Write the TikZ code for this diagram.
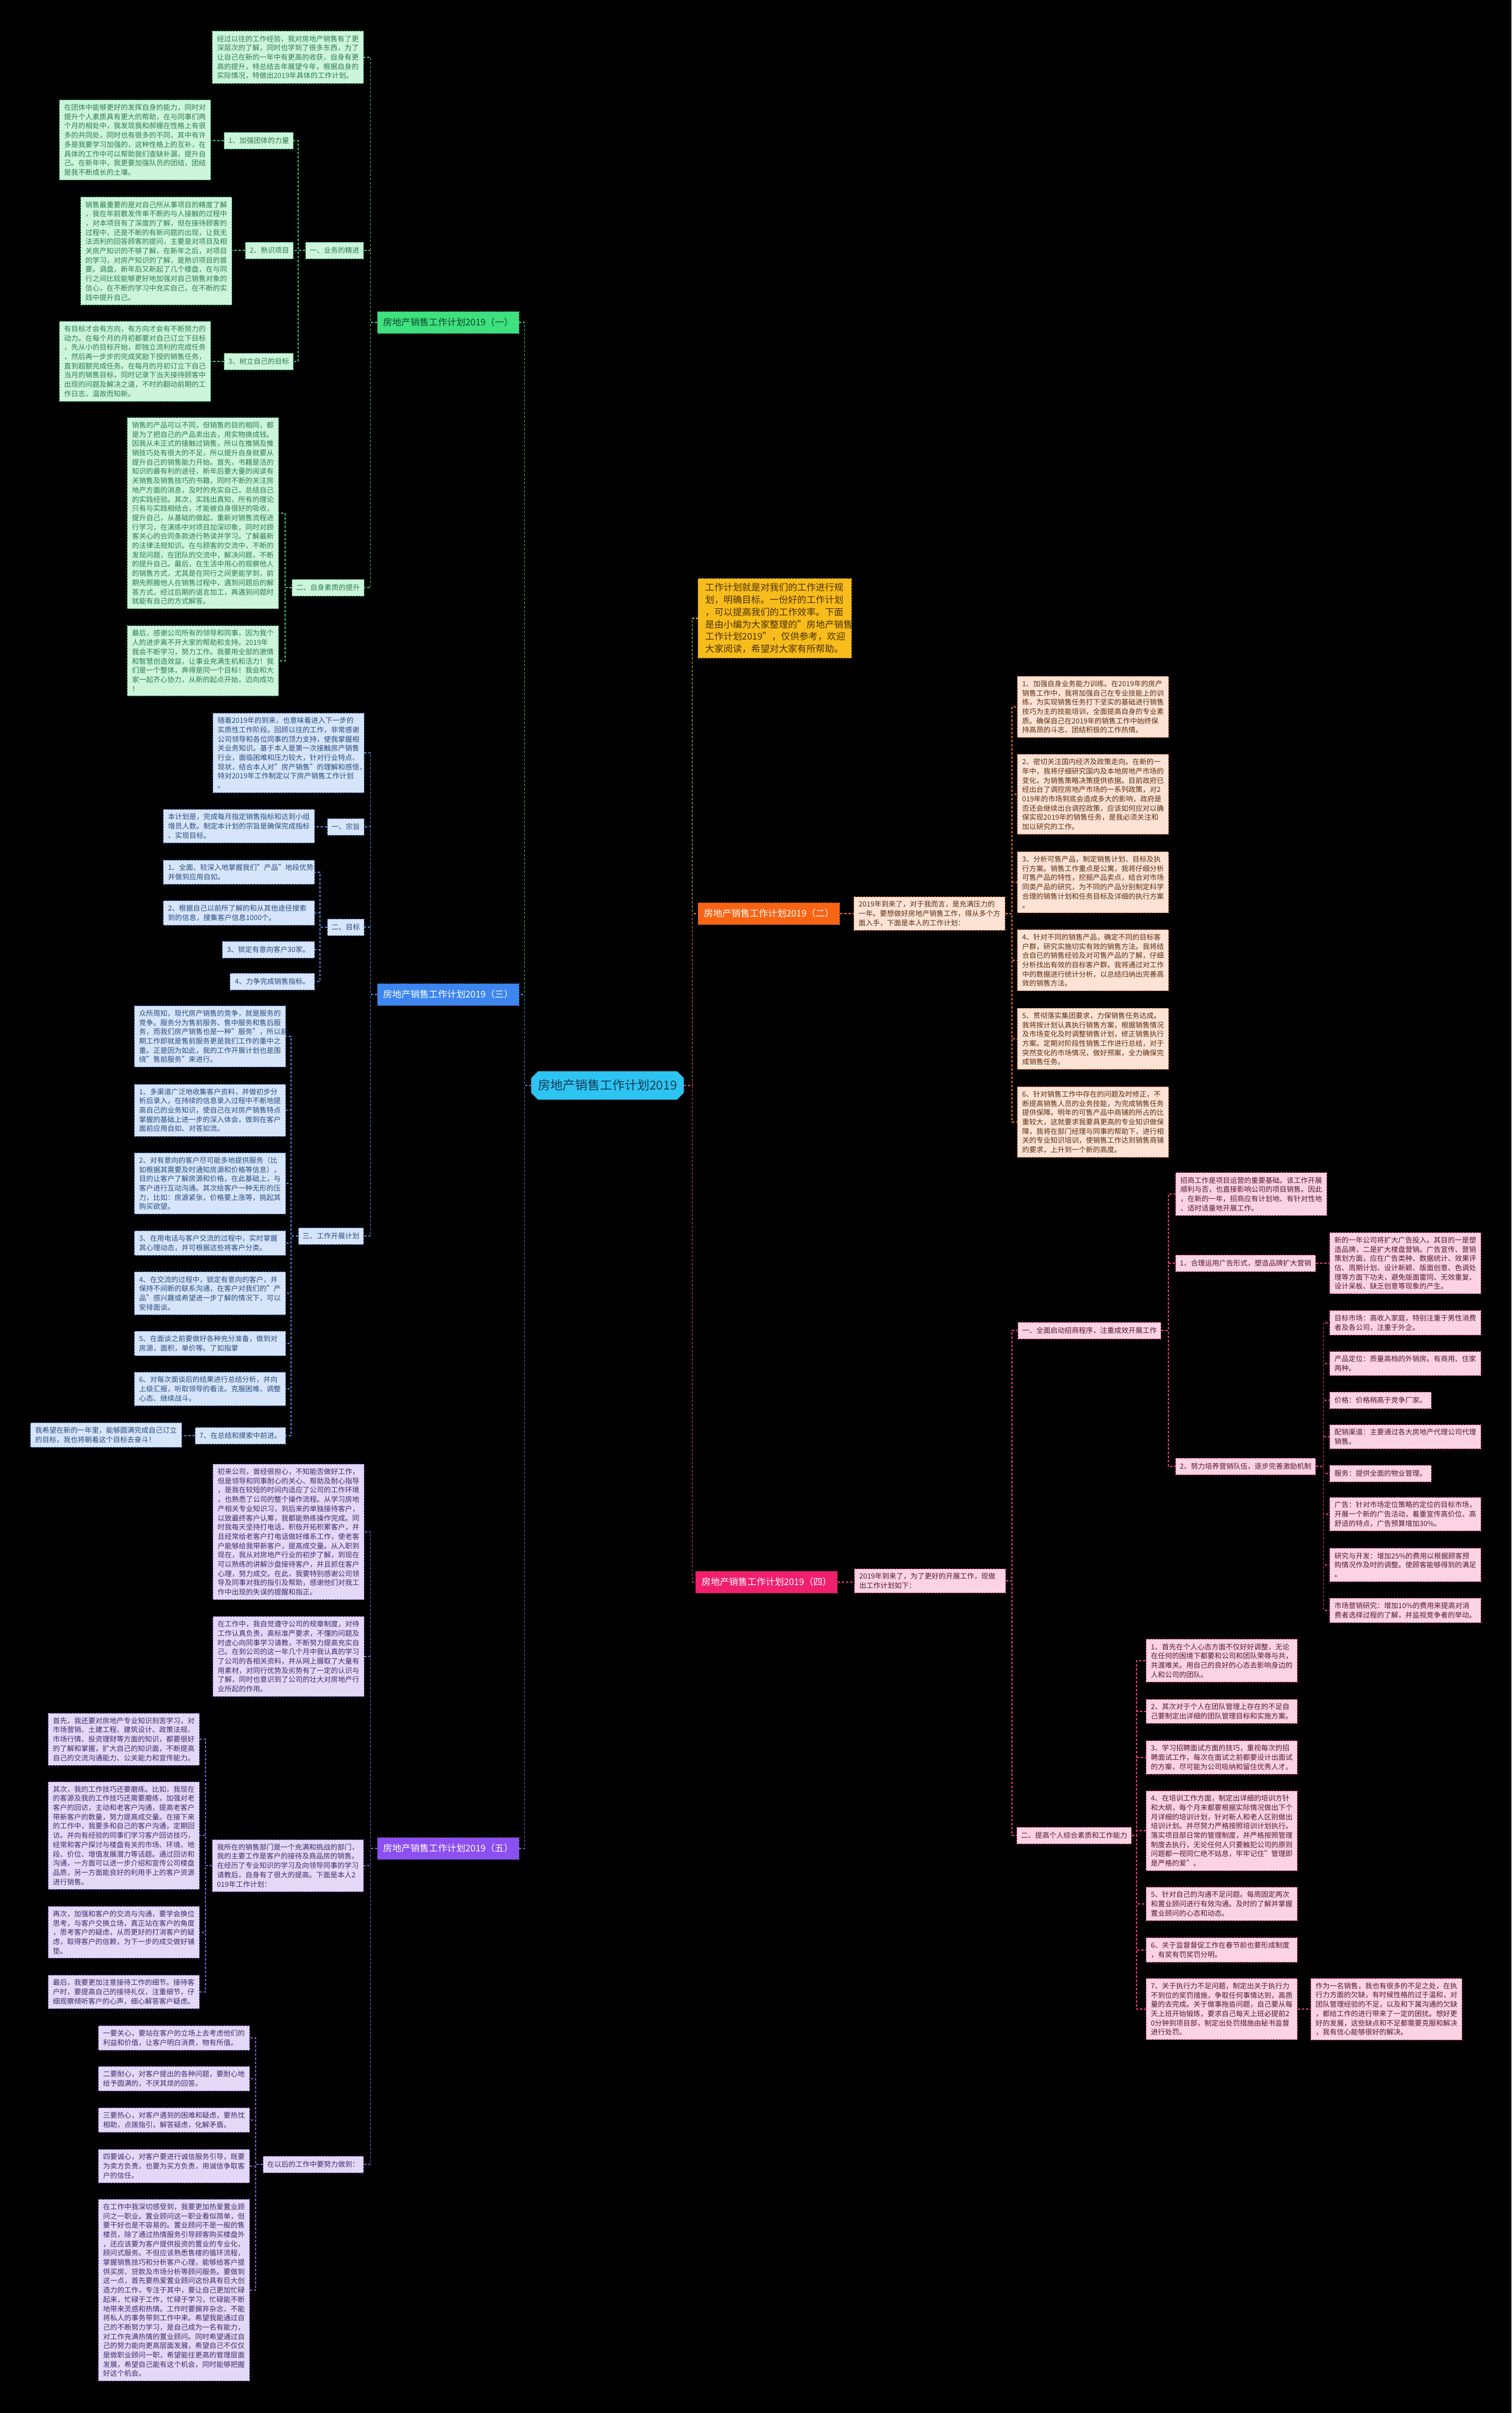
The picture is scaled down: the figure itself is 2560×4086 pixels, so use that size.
\documentclass[tikz,border=0pt]{standalone}
\usepackage{fontspec}
\setmainfont{Noto Sans CJK SC}
\usetikzlibrary{shapes.misc}
\definecolor{gfill}{HTML}{CCF5DB}\definecolor{gtext}{HTML}{2E7D4F}\definecolor{gline}{HTML}{3FBF74}\definecolor{gbr}{HTML}{3EE07F}\definecolor{gbrtext}{HTML}{0E4A2A}
\definecolor{bfill}{HTML}{D7E5FA}\definecolor{btext}{HTML}{2B4C80}\definecolor{bline}{HTML}{4F86DC}\definecolor{bbr}{HTML}{3D86F0}
\definecolor{pfill}{HTML}{E3D9F7}\definecolor{ptext}{HTML}{3E2C6B}\definecolor{pline}{HTML}{7D5BD8}\definecolor{pbr}{HTML}{8C4FF0}
\definecolor{ofill}{HTML}{FCE3D5}\definecolor{otext}{HTML}{5C2E12}\definecolor{oline}{HTML}{F0702A}\definecolor{obr}{HTML}{F86414}
\definecolor{kfill}{HTML}{FBD3E4}\definecolor{ktext}{HTML}{55192F}\definecolor{kline}{HTML}{E4407A}\definecolor{kbr}{HTML}{F0206E}
\definecolor{yfill}{HTML}{F8BC1C}\definecolor{ytext}{HTML}{4A3300}\definecolor{yline}{HTML}{F5C518}
\definecolor{rfill}{HTML}{2EC4F2}\definecolor{rtext}{HTML}{163A55}
\begin{document}
\begin{tikzpicture}[x=1pt,y=-1pt,
  base/.style={font=\fontsize{12}{15.7}\selectfont, inner xsep=8pt, inner ysep=7pt, draw, dash pattern=on 3pt off 2pt, line width=0.9pt},
  para/.style={base, text width=240pt, align=left},
  lab/.style={base, minimum height=28pt, inner xsep=7pt},
  branchbox/.style={font=\fontsize{15.5}{18}\selectfont, minimum width=240pt, minimum height=37pt, inner xsep=8pt, draw, dash pattern=on 3pt off 2pt, line width=0.9pt},
  gp/.style={fill=gfill, draw=gline, text=gtext},
  bp/.style={fill=bfill, draw=bline, text=btext},
  pp/.style={fill=pfill, draw=pline, text=ptext},
  op/.style={fill=ofill, draw=oline, text=otext},
  kp/.style={fill=kfill, draw=kline, text=ktext},
  conn/.style={line width=1.3pt, dash pattern=on 4pt off 3pt},
  gc/.style={conn, draw=gline},
  bc/.style={conn, draw=bline},
  pc/.style={conn, draw=pline},
  oc/.style={conn, draw=oline},
  kc/.style={conn, draw=kline},
  yc/.style={conn, draw=yline}
]
\fill[black] (0,0) rectangle (2560,4086);
\useasboundingbox (0,0) rectangle (2560,4086);

% ---------- root ----------
\node[fill=rfill, text=rtext, draw=rfill!80!black, chamfered rectangle, chamfered rectangle xsep=8pt, minimum width=258pt, minimum height=48pt, font=\fontsize{21}{25}\selectfont] (root) at (1029,1838) {房地产销售工作计划2019};

% ---------- intro ----------
\node[fill=yfill, text=ytext, draw=yline!70!black, dash pattern=on 3pt off 2pt, line width=0.9pt, font=\fontsize{15.6}{20.8}\selectfont, text width=236pt, align=left, inner xsep=12pt, inner ysep=8pt, anchor=west] (intro) at (1182,1047) {工作计划就是对我们的工作进行规\\划，明确目标。一份好的工作计划\\，可以提高我们的工作效率。下面\\是由小编为大家整理的"房地产销售\\工作计划2019"，仅供参考，欢迎\\大家阅读，希望对大家有所帮助。};

% ---------- branch 1 (green) ----------
\node[branchbox, fill=gbr, draw=gline!70!black, text=gbrtext] (b1) at (759,546) {房地产销售工作计划2019（一）};
\node[para,gp,anchor=east] (pi1) at (616,97) {经过以往的工作经验，我对房地产销售有了更\\深层次的了解，同时也学到了很多东西，为了\\让自己在新的一年中有更高的收获，自身有更\\高的提升，特总结去年展望今年，根据自身的\\实际情况，特做出2019年具体的工作计划。};
\node[lab,gp,anchor=east] (t10) at (616,424) {一、业务的精进};
\node[lab,gp,anchor=east] (t11) at (497,238) {1、加强团体的力量};
\node[para,gp,anchor=east] (p11) at (357,237) {在团体中能够更好的发挥自身的能力，同时对\\提升个人素质具有更大的帮助，在与同事们两\\个月的相处中，我发现我和郝姗在性格上有很\\多的共同处，同时也有很多的不同，其中有许\\多是我要学习加强的，这种性格上的互补，在\\具体的工作中可以帮助我们查缺补漏，提升自\\己。在新年中，我更要加强队员的团结，团结\\是我不断成长的土壤。};
\node[lab,gp,anchor=east] (t12) at (497,424) {2、熟识项目};
\node[para,gp,anchor=east] (p12) at (393,425) {销售最重要的是对自己所从事项目的精度了解\\，我在年前散发传单不断的与人接触的过程中\\，对本项目有了深度的了解，但在接待顾客的\\过程中，还是不断的有新问题的出现，让我无\\法流利的回答顾客的提问，主要是对项目及相\\关房产知识的不够了解，在新年之后，对项目\\的学习，对房产知识的了解，是熟识项目的首\\要。调盘，新年后又新起了几个楼盘，在与同\\行之间比较能够更好地加强对自己销售对象的\\信心，在不断的学习中充实自己，在不断的实\\践中提升自己。};
\node[lab,gp,anchor=east] (t13) at (497,612) {3、树立自己的目标};
\node[para,gp,anchor=east] (p13) at (357,612) {有目标才会有方向，有方向才会有不断努力的\\动力。在每个月的月初都要对自己订立下目标\\，先从小的目标开始，即独立流利的完成任务\\，然后再一步步的完成奖励下授的销售任务，\\直到超额完成任务。在每月的月初订立下自己\\当月的销售目标，同时记录下当天接待顾客中\\出现的问题及解决之道，不时的翻动前期的工\\作日志，温故而知新。};
\node[lab,gp,anchor=east] (t14) at (617,995) {二、自身素质的提升};
\node[para,gp,anchor=east] (p14) at (472,869) {销售的产品可以不同，但销售的目的相同，都\\是为了把自己的产品卖出去，用实物换成钱。\\因我从未正式的接触过销售，所以在推销及推\\销技巧处有很大的不足，所以提升自身就要从\\提升自己的销售能力开始。首先，书籍是活的\\知识的最有利的途径，新年后要大量的阅读有\\关销售及销售技巧的书籍，同时不断的关注房\\地产方面的消息，及时的充实自己，总结自己\\的实践经验。其次，实践出真知，所有的理论\\只有与实践相结合，才能被自身很好的吸收，\\提升自己，从基础的做起，重新对销售流程进\\行学习，在演练中对项目加深印象，同时对顾\\客关心的合同条款进行熟读并学习。了解最新\\的法律法规知识。在与顾客的交流中，不断的\\发现问题，在团队的交流中，解决问题，不断\\的提升自己。最后，在生活中用心的观察他人\\的销售方式，尤其是在同行之间更能学到，前\\期先照搬他人在销售过程中，遇到问题后的解\\答方式，经过后期的语言加工，再遇到问题时\\就能有自己的方式解答。};
\node[para,gp,anchor=east] (p15) at (472,1119) {最后，感谢公司所有的领导和同事，因为我个\\人的进步离不开大家的帮助和支持。2019年\\我会不断学习，努力工作。我要用全部的激情\\和智慧创造效益，让事业充满生机和活力！我\\们是一个整体，奔得是同一个目标！我会和大\\家一起齐心协力，从新的起点开始，迈向成功\\！};

% ---------- branch 3 (blue) ----------
\node[branchbox, fill=bbr, draw=bline!70!black, text=white] (b3) at (759,1684) {房地产销售工作计划2019（三）};
\node[para,bp,anchor=east] (p30) at (617,1275) {随着2019年的到来，也意味着进入下一步的\\实质性工作阶段。回顾以往的工作，非常感谢\\公司领导和各位同事的顶力支持，使我掌握相\\关业务知识。基于本人是第一次接触房产销售\\行业，面临困难和压力较大，针对行业特点、\\现状，结合本人对"房产销售"的理解和感悟，\\特对2019年工作制定以下房产销售工作计划\\。};
\node[lab,bp,anchor=east] (t31) at (617,1400) {一、宗旨};
\node[para,bp,anchor=east] (p31) at (533,1399) {本计划是，完成每月指定销售指标和达到小组\\增员人数。制定本计划的宗旨是确保完成指标\\、实现目标。};
\node[lab,bp,anchor=east] (t32) at (617,1570) {二、目标};
\node[para,bp,anchor=east] (p32a) at (533,1477) {1、全面、较深入地掌握我们"产品"地段优势\\并做到应用自如。};
\node[para,bp,anchor=east] (p32b) at (533,1546) {2、根据自己以前所了解的和从其他途径搜索\\到的信息，搜集客户信息1000个。};
\node[lab,bp,anchor=east,inner xsep=8pt] (p32c) at (533,1608) {3、锁定有意向客户30家。};
\node[lab,bp,anchor=east,inner xsep=8pt] (p32d) at (533,1662) {4、力争完成销售指标。};
\node[lab,bp,anchor=east] (t33) at (616,2093) {三、工作开展计划};
\node[para,bp,anchor=east] (p33a) at (484,1755) {众所周知，现代房产销售的竞争，就是服务的\\竞争。服务分为售前服务、售中服务和售后服\\务，而我们房产销售也是一种"服务"，所以前\\期工作即就是售前服务更是我们工作的重中之\\重。正是因为如此，我的工作开展计划也是围\\绕"售前服务"来进行。};
\node[para,bp,anchor=east] (p33b) at (484,1880) {1、多渠道广泛地收集客户资料，并做初步分\\析后录入，在持续的信息录入过程中不断地提\\高自己的业务知识，使自己在对房产销售特点\\掌握的基础上进一步的深入体会，做到在客户\\面前应用自如、对答如流。};
\node[para,bp,anchor=east] (p33c) at (484,2004) {2、对有意向的客户尽可能多地提供服务（比\\如根据其需要及时通知房源和价格等信息），\\目的让客户了解房源和价格，在此基础上，与\\客户进行互动沟通。其次给客户一种无形的压\\力，比如：房源紧张，价格要上涨等，挑起其\\购买欲望。};
\node[para,bp,anchor=east] (p33d) at (484,2105) {3、在用电话与客户交流的过程中，实时掌握\\其心理动态，并可根据这些将客户分类。};
\node[para,bp,anchor=east] (p33e) at (484,2190) {4、在交流的过程中，锁定有意向的客户，并\\保持不间断的联系沟通，在客户对我们的"产\\品"感兴趣或希望进一步了解的情况下，可以\\安排面谈。};
\node[para,bp,anchor=east] (p33f) at (484,2275) {5、在面谈之前要做好各种充分准备，做到对\\房源，面积，单价等。了如指掌};
\node[para,bp,anchor=east] (p33g) at (484,2352) {6、对每次面谈后的结果进行总结分析，并向\\上级汇报，听取领导的看法。克服困难、调整\\心态、继续战斗。};
\node[lab,bp,anchor=east] (t33h) at (484,2431) {7、在总结和摸索中前进。};
\node[para,bp,anchor=east] (p33i) at (308,2430) {我希望在新的一年里，能够圆满完成自己订立\\的目标，我也将朝着这个目标去奋斗！};

% ---------- branch 5 (purple) ----------
\node[branchbox, fill=pbr, draw=pline!70!black, text=white] (b5) at (759,3130) {房地产销售工作计划2019（五）};
\node[para,pp,anchor=east] (p50a) at (617,2594) {初来公司，曾经很担心，不知能否做好工作，\\但是领导和同事耐心的关心、帮助及耐心指导\\，是我在较短的时间内适应了公司的工作环境\\，也熟悉了公司的整个操作流程。从学习房地\\产相关专业知识习，到后来的单独接待客户，\\以致最终客户认筹，我都能熟练操作完成。同\\时我每天坚持打电话，积极开拓积累客户，并\\且经常给老客户打电话做好维系工作，使老客\\户能够给我带新客户，提高成交量。从入职到\\现在，我从对房地产行业的初步了解，到现在\\可以熟练的讲解沙盘接待客户，并且抓住客户\\心理，努力成交。在此，我要特别感谢公司领\\导及同事对我的指引及帮助，感谢他们对我工\\作中出现的失误的提醒和指正。};
\node[para,pp,anchor=east] (p50b) at (617,2805) {在工作中，我自觉遵守公司的规章制度，对待\\工作认真负责，高标准严要求，不懂的问题及\\时虚心向同事学习请教，不断努力提高充实自\\己。在到公司的这一年几个月中我认真的学习\\了公司的各相关资料，并从网上摄取了大量有\\用素材，对同行优势及劣势有了一定的认识与\\了解，同时也意识到了公司的壮大对房地产行\\业所起的作用。};
\node[para,pp,anchor=east] (t51) at (616,3159) {我所在的销售部门是一个充满和挑战的部门，\\我的主要工作是客户的接待及商品房的销售。\\在经历了专业知识的学习及向领导同事的学习\\请教后，自身有了很大的提高。下面是本人2\\019年工作计划：};
\node[para,pp,anchor=east] (p51a) at (338,2945) {首先，我还要对房地产专业知识刻苦学习，对\\市场营销、土建工程、建筑设计、政策法规、\\市场行情、投资理财等方面的知识，都要很好\\的了解和掌握，扩大自己的知识面，不断提高\\自己的交流沟通能力、公关能力和宣传能力。};
\node[para,pp,anchor=east] (p51b) at (338,3108) {其次，我的工作技巧还要磨练。比如，我现在\\的客源及我的工作技巧还需要磨练，加强对老\\客户的回访，主动和老客户沟通，提高老客户\\带新客户的数量，努力提高成交量。在接下来\\的工作中，我要多和自己的客户沟通，定期回\\访。并向有经验的同事们学习客户回访技巧，\\经常和客户探讨与楼盘有关的市场、环境、地\\段、价位、增值发展潜力等话题。通过回访和\\沟通，一方面可以进一步介绍和宣传公司楼盘\\品质，另一方面能良好的利用手上的客户资源\\进行销售。};
\node[para,pp,anchor=east] (p51c) at (338,3272) {再次，加强和客户的交流与沟通，要学会换位\\思考，与客户交换立场，真正站在客户的角度\\，思考客户的疑虑，从而更好的打消客户的疑\\虑，取得客户的信赖，为下一步的成交做好铺\\垫。};
\node[para,pp,anchor=east] (p51d) at (338,3373) {最后，我要更加注意接待工作的细节。接待客\\户时，要提高自己的接待礼仪，注重细节，仔\\细观察倾听客户的心声，细心解答客户疑虑。};
\node[lab,pp,anchor=east] (t52) at (616,3665) {在以后的工作中要努力做到：};
\node[para,pp,anchor=east] (p52a) at (423,3451) {一要关心，要站在客户的立场上去考虑他们的\\利益和价值，让客户明白消费，物有所值。};
\node[para,pp,anchor=east] (p52b) at (423,3520) {二要耐心，对客户提出的各种问题，要耐心地\\给予圆满的，不厌其烦的回答。};
\node[para,pp,anchor=east] (p52c) at (423,3590) {三要热心，对客户遇到的困难和疑虑，要热忱\\相助，点拨指引，解答疑虑，化解矛盾。};
\node[para,pp,anchor=east] (p52d) at (423,3668) {四要诚心，对客户要进行诚信服务引导，既要\\为卖方负责，也要为买方负责，用诚信争取客\\户的信任。};
\node[para,pp,anchor=east] (p52e) at (423,3878) {在工作中我深切感受到，我要更加热爱置业顾\\问之一职业。置业顾问这一职业看似简单，但\\要干好也是不容易的。置业顾问不是一般的售\\楼员，除了通过热情服务引导顾客购买楼盘外\\，还应该要为客户提供投资的置业的专业化，\\顾问式服务。不但应该熟悉售楼的循环流程，\\掌握销售技巧和分析客户心理，能够给客户提\\供买房、贷款及市场分析等顾问服务。要做到\\这一点，首先要热爱置业顾问这份具有巨大创\\造力的工作，专注于其中，要让自己更加忙碌\\起来，忙碌于工作，忙碌于学习，忙碌能不断\\地带来灵感和热情。工作时要摒弃杂念，不能\\将私人的事务带到工作中来。希望我能通过自\\己的不断努力学习，是自己成为一名有能力，\\对工作充满热情的置业顾问。同时希望通过自\\己的努力能向更高层面发展，希望自己不仅仅\\是做职业顾问一职，希望能往更高的管理层面\\发展，希望自己能有这个机会，同时能够把握\\好这个机会。};

% ---------- branch 2 (orange) ----------
\node[branchbox, fill=obr, draw=oline!70!black, text=white, anchor=west] (b2) at (1182,1547) {房地产销售工作计划2019（二）};
\node[para,op,anchor=west] (p20) at (1446,1547) {2019年到来了，对于我而言，是充满压力的\\一年。要想做好房地产销售工作，得从多个方\\面入手，下面是本人的工作计划：};
\node[para,op,anchor=west] (p21) at (1723,1197) {1、加强自身业务能力训练。在2019年的房产\\销售工作中，我将加强自己在专业技能上的训\\练，为实现销售任务打下坚实的基础进行销售\\技巧为主的技能培训，全面提高自身的专业素\\质。确保自己在2019年的销售工作中始终保\\持高昂的斗志、团结积极的工作热情。};
\node[para,op,anchor=west] (p22) at (1723,1345) {2、密切关注国内经济及政策走向。在新的一\\年中，我将仔细研究国内及本地房地产市场的\\变化，为销售策略决策提供依据。目前政府已\\经出台了调控房地产市场的一系列政策，对2\\019年的市场到底会造成多大的影响，政府是\\否还会继续出台调控政策，应该如何应对以确\\保实现2019年的销售任务，是我必须关注和\\加以研究的工作。};
\node[para,op,anchor=west] (p23) at (1723,1494) {3、分析可售产品，制定销售计划、目标及执\\行方案。销售工作重点是公寓，我将仔细分析\\可售产品的特性，挖掘产品卖点，结合对市场\\同类产品的研究，为不同的产品分别制定科学\\合理的销售计划和任务目标及详细的执行方案\\。};
\node[para,op,anchor=west] (p24) at (1723,1626) {4、针对不同的销售产品，确定不同的目标客\\户群，研究实施切实有效的销售方法。我将结\\合自已的销售经验及对可售产品的了解，仔细\\分析找出有效的目标客户群。我将通过对工作\\中的数据进行统计分析，以总结归纳出完善高\\效的销售方法。};
\node[para,op,anchor=west] (p25) at (1723,1759) {5、贯彻落实集团要求，力保销售任务达成。\\我将按计划认真执行销售方案，根据销售情况\\及市场变化及时调整销售计划，修正销售执行\\方案。定期对阶段性销售工作进行总结，对于\\突然变化的市场情况，做好预案，全力确保完\\成销售任务。};
\node[para,op,anchor=west] (p26) at (1723,1900) {6、针对销售工作中存在的问题及时修正，不\\断提高销售人员的业务技能，为完成销售任务\\提供保障。明年的可售产品中商铺的所占的比\\重较大，这就要求我要具更高的专业知识做保\\障，我将在部门经理与同事的帮助下，进行相\\关的专业知识培训，使销售工作达到销售商铺\\的要求，上升到一个新的高度。};

% ---------- branch 4 (pink) ----------
\node[branchbox, fill=kbr, draw=kline!70!black, text=white, anchor=west] (b4) at (1178,2679) {房地产销售工作计划2019（四）};
\node[para,kp,anchor=west] (p40) at (1447,2677) {2019年到来了，为了更好的开展工作，现做\\出工作计划如下：};
\node[lab,kp,anchor=west] (t41) at (1724,2253) {一、全面启动招商程序，注重成效开展工作};
\node[para,kp,anchor=west] (p41a) at (1991,2022) {招商工作是项目运营的重要基础。该工作开展\\顺利与否，也直接影响公司的项目销售。因此\\，在新的一年，招商应有计划地、有针对性地\\、适时适量地开展工作。};
\node[lab,kp,anchor=west] (t41b) at (1991,2139) {1、合理运用广告形式，塑造品牌扩大营销};
\node[para,kp,anchor=west] (p41b1) at (2252,2139) {新的一年公司将扩大广告投入。其目的一是塑\\造品牌，二是扩大楼盘营销。广告宣传、营销\\策划方面，应在广告类种、数据统计、效果评\\估、周期计划、设计新颖、版面创意、色调处\\理等方面下功夫，避免版面雷同、无效重复、\\设计呆板、缺乏创意等现象的产生。};
\node[lab,kp,anchor=west] (t41c) at (1991,2483) {2、努力培养营销队伍，逐步完善激励机制};
\node[para,kp,anchor=west] (c1) at (2252,2240) {目标市场：高收入家庭，特别注重于男性消费\\者及各公司，注重于外企。};
\node[para,kp,anchor=west] (c2) at (2252,2309) {产品定位：质量高档的外销房。有商用、住家\\两种。};
\node[lab,kp,anchor=west,inner xsep=8pt] (c3) at (2252,2371) {价格：价格稍高于竞争厂家。};
\node[para,kp,anchor=west] (c4) at (2252,2433) {配销渠道：主要通过各大房地产代理公司代理\\销售。};
\node[lab,kp,anchor=west,inner xsep=8pt] (c5) at (2252,2495) {服务：提供全面的物业管理。};
\node[para,kp,anchor=west] (c6) at (2252,2564) {广告：针对市场定位策略的定位的目标市场，\\开展一个新的广告活动，着重宣传高价位、高\\舒适的特点，广告预算增加30\%。};
\node[para,kp,anchor=west] (c7) at (2252,2650) {研究与开发：增加25\%的费用以根据顾客预\\购情况作及时的调整。使顾客能够得到的满足\\。};
\node[para,kp,anchor=west] (c8) at (2252,2727) {市场营销研究：增加10\%的费用来提高对消\\费者选择过程的了解，并监视竞争者的举动。};
\node[lab,kp,anchor=west] (t42) at (1722,3108) {二、提高个人综合素质和工作能力};
\node[para,kp,anchor=west] (p42a) at (1941,2812) {1、首先在个人心态方面不仅好好调整，无论\\在任何的困境下都要和公司和团队荣辱与共，\\共渡难关。用自己的良好的心态去影响身边的\\人和公司的团队。};
\node[para,kp,anchor=west] (p42b) at (1941,2898) {2、其次对于个人在团队管理上存在的不足自\\己要制定出详细的团队管理目标和实施方案。};
\node[para,kp,anchor=west] (p42c) at (1941,2976) {3、学习招聘面试方面的技巧，重视每次的招\\聘面试工作，每次在面试之前都要设计出面试\\的方案，尽可能为公司吸纳和留住优秀人才。};
\node[para,kp,anchor=west] (p42d) at (1941,3100) {4、在培训工作方面，制定出详细的培训方针\\和大纲，每个月末都要根据实际情况做出下个\\月详细的培训计划，针对新人和老人区别做出\\培训计划。并尽努力严格按照培训计划执行。\\落实项目部日常的管理制度，并严格按照管理\\制度去执行，无论任何人只要触犯公司的原则\\问题都一视同仁绝不姑息，牢牢记住"管理即\\是严格的爱"。};
\node[para,kp,anchor=west] (p42e) at (1941,3224) {5、针对自己的沟通不足问题。每周固定两次\\和置业顾问进行有效沟通。及时的了解并掌握\\置业顾问的心态和动态。};
\node[para,kp,anchor=west] (p42f) at (1941,3302) {6、关于监督督促工作在春节前也要形成制度\\，有奖有罚奖罚分明。};
\node[para,kp,anchor=west] (p42g) at (1941,3402) {7、关于执行力不足问题，制定出关于执行力\\不到位的奖罚措施，争取任何事情达到，高质\\量的去完成。关于做事拖沓问题，自己要从每\\天上班开始锻炼，要求自己每天上班必提前2\\0分钟到项目部，制定出处罚措施由秘书监督\\进行处罚。};
\node[para,kp,anchor=west] (p42h) at (2220,3402) {作为一名销售，我也有很多的不足之处，在执\\行力方面的欠缺，有时候性格的过于温和，对\\团队管理经验的不足，以及和下属沟通的欠缺\\，都给工作的进行带来了一定的困扰。想好更\\好的发展，这些缺点和不足都需要克服和解决\\，我有信心能够很好的解决。};

% ---------- connectors ----------
\draw[gc] (root.west) -- ++(-11,0) |- (b1.east);
\draw[bc] (root.west) -- ++(-11,0) |- (b3.east);
\draw[pc] (root.west) -- ++(-11,0) |- (b5.east);
\draw[yc] (root.east) -- ++(14,0) |- (intro.west);
\draw[oc] (root.east) -- ++(14,0) |- (b2.west);
\draw[kc] (root.east) -- ++(14,0) |- (b4.west);

\foreach \n in {pi1,t10,t14} \draw[gc] (b1.west) -- ++(-11,0) |- (\n.east);
\foreach \n in {t11,t12,t13} \draw[gc] (t10.west) -- ++(-12,0) |- (\n.east);
\draw[gc] (t11.west) -- (t11.west -| p11.east);
\draw[gc] (t12.west) -- (t12.west -| p12.east);
\draw[gc] (t13.west) -- (t13.west -| p13.east);
\foreach \n in {p14,p15} \draw[gc] (t14.west) -- ++(-11,0) |- (\n.east);

\foreach \n in {p30,t31,t32,t33} \draw[bc] (b3.west) -- ++(-11,0) |- (\n.east);
\draw[bc] (t31.west) -- (t31.west -| p31.east);
\foreach \n in {p32a,p32b,p32c,p32d} \draw[bc] (t32.west) -- ++(-12,0) |- (\n.east);
\foreach \n in {p33a,p33b,p33c,p33d,p33e,p33f,p33g,t33h} \draw[bc] (t33.west) -- ++(-12,0) |- (\n.east);
\draw[bc] (t33h.west) -- (t33h.west -| p33i.east);

\foreach \n in {p50a,p50b,t51,t52} \draw[pc] (b5.west) -- ++(-11,0) |- (\n.east);
\foreach \n in {p51a,p51b,p51c,p51d} \draw[pc] (t51.west) -- ++(-11,0) |- (\n.east);
\foreach \n in {p52a,p52b,p52c,p52d,p52e} \draw[pc] (t52.west) -- ++(-12,0) |- (\n.east);

\draw[oc] (b2.east) -- (b2.east -| p20.west);
\foreach \n in {p21,p22,p23,p24,p25,p26} \draw[oc] (p20.east) -- ++(11,0) |- (\n.west);

\draw[kc] (b4.east) -- (b4.east -| p40.west);
\foreach \n in {t41,t42} \draw[kc] (p40.east) -- ++(10,0) |- (\n.west);
\foreach \n in {p41a,t41b,t41c} \draw[kc] (t41.east) -- ++(12,0) |- (\n.west);
\draw[kc] (t41b.east) -- (t41b.east -| p41b1.west);
\foreach \n in {c1,c2,c3,c4,c5,c6,c7,c8} \draw[kc] (t41c.east) -- ++(13,0) |- (\n.west);
\foreach \n in {p42a,p42b,p42c,p42d,p42e,p42f,p42g} \draw[kc] (t42.east) -- ++(8,0) |- (\n.west);
\draw[kc] (p42g.east) -- (p42g.east -| p42h.west);
\end{tikzpicture}
\end{document}
